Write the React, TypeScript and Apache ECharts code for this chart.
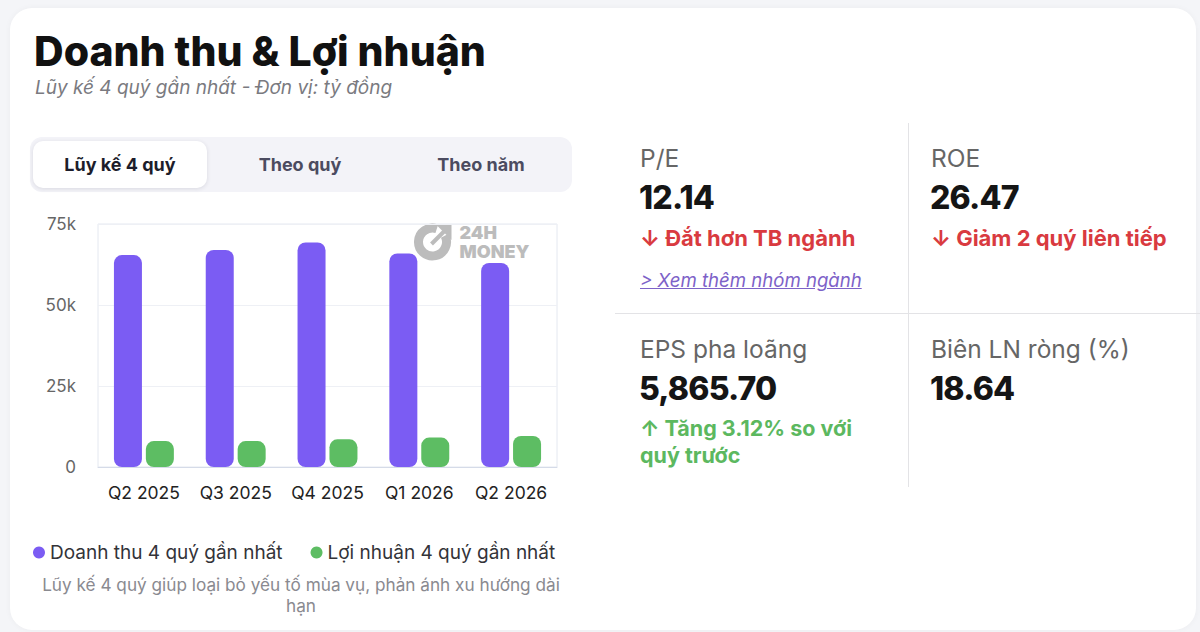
import React, { useEffect, useRef } from "react";
import * as echarts from "echarts";

const categories = ["Q2 2025", "Q3 2025", "Q4 2025", "Q1 2026", "Q2 2026"];
const revenue = [65400, 67000, 69300, 65900, 63000];
const profit = [8000, 8000, 8550, 9070, 9580];
const yTicks = [0, 25000, 50000, 75000];
const seriesNames = ["Doanh thu 4 quý gần nhất", "Lợi nhuận 4 quý gần nhất"];
const tabs = ["Lũy kế 4 quý", "Theo quý", "Theo năm"];

const FONT = "Inter, 'Noto Sans', sans-serif";

function Chart() {
  const ref = useRef<HTMLDivElement>(null);
  useEffect(() => {
    if (!ref.current) return;
    const chart = echarts.init(ref.current, null, { renderer: "svg" });
    chart.setOption({
      animation: false,
      textStyle: { fontFamily: FONT },
      grid: {
        left: 98,
        top: 224,
        width: 459,
        height: 243,
        show: true,
        borderColor: "#e4e8f0",
        borderWidth: 1,
        backgroundColor: "transparent",
      },
      legend: {
        left: 28,
        top: 538,
        icon: "circle",
        itemWidth: 12,
        itemHeight: 12,
        itemGap: 28,
        textStyle: { fontSize: 19, color: "#333338", fontFamily: FONT },
        data: seriesNames,
      },
      xAxis: {
        type: "category",
        data: categories,
        axisTick: { show: false },
        axisLine: { lineStyle: { color: "#d5dbe8" } },
        axisLabel: { fontSize: 17.5, color: "#222", margin: 16, fontFamily: FONT, interval: 0 },
      },
      yAxis: {
        type: "value",
        min: yTicks[0],
        max: yTicks[yTicks.length - 1],
        interval: yTicks[1] - yTicks[0],
        axisLabel: {
          fontSize: 17,
          color: "#666",
          margin: 22,
          fontFamily: FONT,
          formatter: (v: number) => (v === 0 ? "0" : v / 1000 + "k"),
        },
        splitLine: { lineStyle: { color: "#eef0f5" } },
      },
      graphic: [
        {
          type: "group",
          left: 414,
          top: 223,
          silent: true,
          children: [
            {
              type: "arc",
              shape: { cx: 21, cy: 19, r: 14, startAngle: -Math.PI * 0.15, endAngle: Math.PI * 1.6 },
              style: { stroke: "#bcbcbc", lineWidth: 9, fill: "none" },
            },
            {
              type: "line",
              shape: { x1: 20, y1: 21, x2: 33, y2: 8 },
              style: { stroke: "#bcbcbc", lineWidth: 4 },
            },
            {
              type: "polygon",
              shape: { points: [[25, 2], [40, 2], [40, 17]] },
              style: { fill: "#bcbcbc" },
            },
            {
              type: "text",
              x: 48,
              y: 0,
              style: {
                text: "24H",
                font: "900 18px Inter, sans-serif",
                fill: "#bcbcbc",
                verticalAlign: "top",
              },
            },
            {
              type: "text",
              x: 48,
              y: 19,
              style: {
                text: "MONEY",
                font: "900 18px Inter, sans-serif",
                fill: "#bcbcbc",
                verticalAlign: "top",
              },
            },
          ],
        },
      ],
      series: [
        {
          name: seriesNames[0],
          type: "bar",
          data: revenue,
          barWidth: 28,
          barGap: "14%",
          itemStyle: { color: "#7b5cf3", borderRadius: 8 },
        },
        {
          name: seriesNames[1],
          type: "bar",
          data: profit,
          barWidth: 28,
          itemStyle: { color: "#5dbd63", borderRadius: 8 },
        },
      ],
    });
    return () => chart.dispose();
  }, []);
  return <div ref={ref} style={{ position: "absolute", left: 0, top: 0, width: 600, height: 632 }} />;
}

const abs = (s: React.CSSProperties): React.CSSProperties => ({ position: "absolute", whiteSpace: "nowrap", ...s });

export default function App() {
  return (
    <div
      style={{
        position: "fixed",
        left: 0,
        top: 0,
        width: 1200,
        height: 632,
        background: "#f4f5f8",
        overflow: "hidden",
        fontFamily: FONT,
      }}
    >
      <div
        style={{
          position: "absolute",
          left: 10,
          top: 8,
          width: 1186,
          height: 622,
          background: "#ffffff",
          borderRadius: 22,
          boxShadow: "0 0 6px rgba(0,0,0,0.04)",
        }}
      />
      <div style={abs({ left: 34, top: 26, fontSize: 41, fontWeight: 800, color: "#111", letterSpacing: 0, lineHeight: "50px" })}>
        Doanh thu &amp; Lợi nhuận
      </div>
      <div style={abs({ left: 35, top: 76, fontSize: 19, fontStyle: "italic", color: "#7a7a80", lineHeight: "24px" })}>
        Lũy kế 4 quý gần nhất - Đơn vị: tỷ đồng
      </div>

      <div style={abs({ left: 30, top: 137, width: 542, height: 55, background: "#f3f3f8", borderRadius: 12 })} />
      <div
        style={abs({
          left: 33,
          top: 141,
          width: 174,
          height: 47,
          background: "#fff",
          borderRadius: 10,
          boxShadow: "0 1px 4px rgba(30,30,60,0.12)",
        })}
      />
      {tabs.map((t, i) => (
        <div
          key={t}
          style={abs({
            left: [120, 300, 481][i] - 90,
            width: 180,
            textAlign: "center",
            top: 152,
            fontSize: 18,
            fontWeight: 700,
            lineHeight: "25px",
            color: i === 0 ? "#1d1d2b" : "#4b4b60",
          })}
        >
          {t}
        </div>
      ))}

      <Chart />

      <div style={abs({ left: 0, width: 602, textAlign: "center", top: 574, fontSize: 17.2, color: "#8a8a90", lineHeight: "21px" })}>
        Lũy kế 4 quý giúp loại bỏ yếu tố mùa vụ, phản ánh xu hướng dài
        <br />
        hạn
      </div>

      {/* KPI grid */}
      <div style={abs({ left: 908, top: 123, width: 1, height: 364, background: "#e3e3e6" })} />
      <div style={abs({ left: 615, top: 313, width: 590, height: 1, background: "#e3e3e6" })} />

      <div style={abs({ left: 640, top: 143, fontSize: 24.5, color: "#666", lineHeight: "30px" })}>P/E</div>
      <div style={abs({ left: 639, top: 179, fontSize: 32, fontWeight: 800, color: "#151515", letterSpacing: -0.8, lineHeight: "38px" })}>12.14</div>
      <div style={abs({ left: 640, top: 224, fontSize: 22, fontWeight: 700, color: "#d93a40", lineHeight: "28px" })}>↓ Đắt hơn TB ngành</div>
      <div
        style={abs({
          left: 640,
          top: 268,
          fontSize: 18.6,
          fontStyle: "italic",
          color: "#7d62c8",
          textDecoration: "underline",
          lineHeight: "25px",
        })}
      >
        &gt; Xem thêm nhóm ngành
      </div>

      <div style={abs({ left: 931, top: 143, fontSize: 24.5, color: "#666", lineHeight: "30px" })}>ROE</div>
      <div style={abs({ left: 930, top: 179, fontSize: 32, fontWeight: 800, color: "#151515", letterSpacing: -0.8, lineHeight: "38px" })}>26.47</div>
      <div style={abs({ left: 931, top: 224, fontSize: 22, fontWeight: 700, color: "#d93a40", lineHeight: "28px" })}>↓ Giảm 2 quý liên tiếp</div>

      <div style={abs({ left: 640, top: 334, fontSize: 24.5, color: "#666", lineHeight: "30px" })}>EPS pha loãng</div>
      <div style={abs({ left: 639, top: 370, fontSize: 32, fontWeight: 800, color: "#151515", letterSpacing: -0.8, lineHeight: "38px" })}>5,865.70</div>
      <div style={abs({ left: 640, top: 415, fontSize: 21.5, fontWeight: 700, color: "#5cb85f", lineHeight: "27px" })}>
        ↑ Tăng 3.12% so với
        <br />
        quý trước
      </div>

      <div style={abs({ left: 931, top: 334, fontSize: 24.5, color: "#666", lineHeight: "30px" })}>Biên LN ròng (%)</div>
      <div style={abs({ left: 930, top: 370, fontSize: 32, fontWeight: 800, color: "#151515", letterSpacing: -0.8, lineHeight: "38px" })}>18.64</div>
    </div>
  );
}
